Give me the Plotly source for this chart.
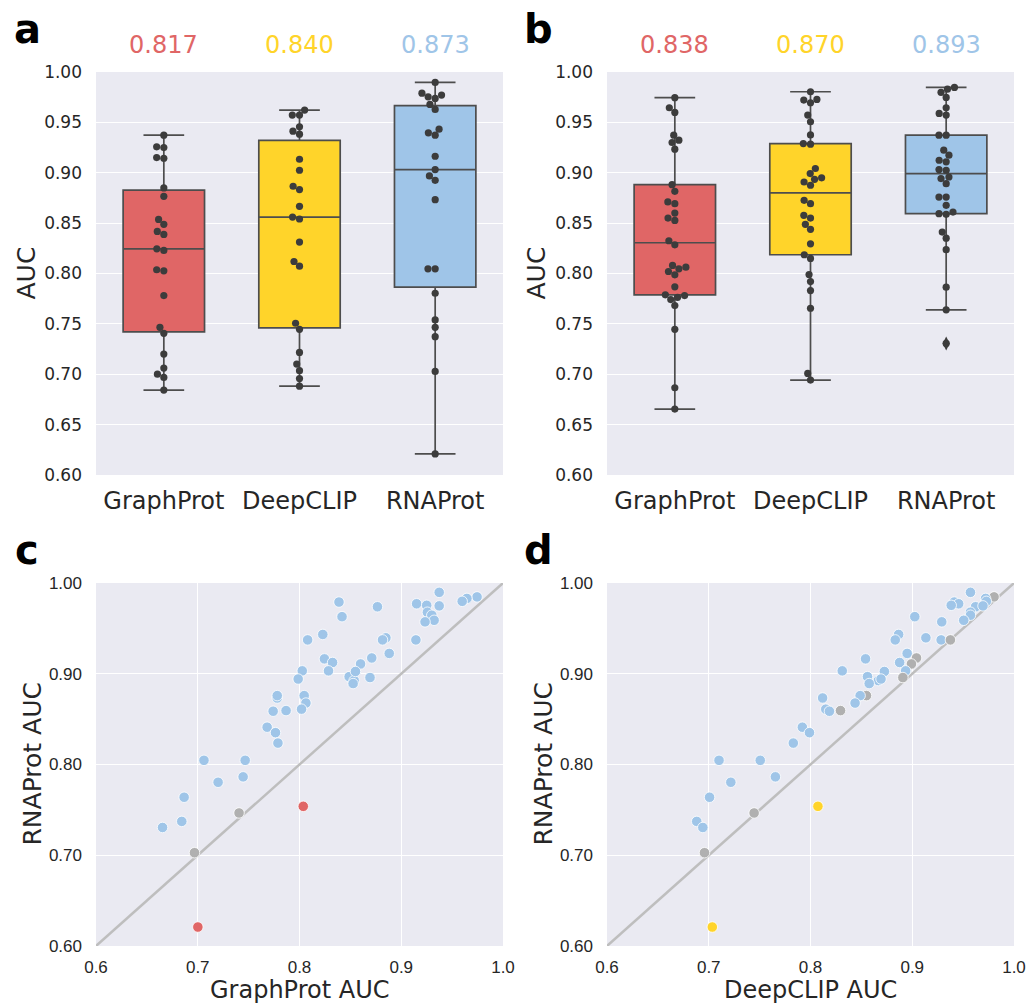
import numpy as np
import plotly.graph_objects as go

W, H = 1027, 1006

methods = ["GraphProt", "DeepCLIP", "RNAProt"]
method_colors = ["#E06666", "#FFD42A", "#9FC5E8"]
tie_color = "#B0B0B0"
box_line = "#4D4D4D"
dot_color = "#3C3C3C"

# ---- dataset of panel a (one value per RBP, rows aligned) ----
graphprot_a = [0.9373, 0.8388, 0.9151, 0.9250, 0.8766, 0.9257, 0.8418, 0.8229, 0.8849, 0.9144,
               0.8245, 0.8027, 0.8488, 0.8537, 0.7781, 0.7061, 0.7466, 0.7200, 0.8037, 0.7406,
               0.6843, 0.6968, 0.7001]
deepclip_a = [0.9572, 0.9413, 0.9456, 0.9383, 0.9622, 0.9572, 0.9025, 0.8866, 0.9134, 0.8833,
              0.8541, 0.8312, 0.8560, 0.8667, 0.8119, 0.7101, 0.7506, 0.7217, 0.8073, 0.7446,
              0.6882, 0.6958, 0.7035]
rnaprot_a = [0.9897, 0.9790, 0.9771, 0.9754, 0.9738, 0.9678, 0.9629, 0.9433, 0.9396, 0.9373,
             0.9164, 0.9032, 0.8968, 0.8925, 0.8733, 0.8046, 0.8046, 0.7804, 0.7539, 0.7466,
             0.7373, 0.7028, 0.6209]
# RNAProt vs other: "+" better, "-" worse, "=" no difference
vs_graphprot_a = ["+"] * 18 + ["-", "=", "+", "=", "-"]
vs_deepclip_a = ["+"] * 18 + ["-", "=", "+", "=", "-"]

# ---- dataset of panel b ----
graphprot_b = [0.9745, 0.9645, 0.9599, 0.9373, 0.9300, 0.9323, 0.9234, 0.8080, 0.8816, 0.8882,
               0.8710, 0.8325, 0.8600, 0.8285, 0.8550, 0.8693, 0.7987, 0.8527, 0.8046, 0.7781,
               0.8063, 0.8020, 0.7868, 0.7741, 0.7682, 0.7764, 0.7788, 0.7446, 0.6866, 0.6654]
deepclip_b = [0.9804, 0.9721, 0.9728, 0.9695, 0.9572, 0.9506, 0.9290, 0.9284, 0.9375, 0.8950,
              0.9042, 0.8876, 0.8992, 0.8935, 0.8726, 0.8908, 0.8693, 0.8577, 0.8550, 0.8488,
              0.8438, 0.8150, 0.8295, 0.8186, 0.7920, 0.7990, 0.7831, 0.7655, 0.7008, 0.6942]
rnaprot_b = [0.9847, 0.9830, 0.9798, 0.9748, 0.9645, 0.9589, 0.9572, 0.9373, 0.9373, 0.9224,
             0.9174, 0.9124, 0.9108, 0.9032, 0.9025, 0.8958, 0.8942, 0.8892, 0.8759, 0.8759,
             0.8677, 0.8610, 0.8594, 0.8587, 0.8411, 0.8351, 0.8236, 0.7864, 0.7639, 0.7306]
vs_graphprot_b = ["+"] * 30
vs_deepclip_b = ["=", "+", "+", "+", "+", "+", "+", "+", "=", "+",
                 "=", "+", "=", "+", "+", "=", "+", "+", "=", "+",
                 "+", "+", "=", "+", "+", "+", "+", "+", "+", "+"]

box_ticks = [0.60, 0.65, 0.70, 0.75, 0.80, 0.85, 0.90, 0.95, 1.00]
scatter_ticks = [0.6, 0.7, 0.8, 0.9, 1.0]

# ---- layout geometry (pixels) ----
top_y0, top_y1 = 72, 475
bot_y0, bot_y1 = 583, 946
left_x0, left_x1 = 96, 503
right_x0, right_x1 = 607, 1014

px_per_cat = (left_x1 - left_x0) / 3.0
px_per_auc = (top_y1 - top_y0) / 0.4
DOT = 7.2


def swarm_offsets(values, d=DOT):
    vals = np.asarray(values, dtype=float)
    order = np.argsort(vals, kind="stable")
    placed = []
    offs = np.zeros(len(vals))
    for i in order:
        y = vals[i] * px_per_auc
        cands = [0.0]
        for (px, py) in placed:
            dy = abs(py - y)
            if dy < d:
                dx = np.sqrt(d * d - dy * dy)
                cands += [px - dx, px + dx]
        cands = sorted(cands, key=lambda c: (round(abs(c), 6), c))
        chosen = cands[-1]
        for c in cands:
            if all((c - px) ** 2 + (y - py) ** 2 >= d * d - 1e-6 for px, py in placed):
                chosen = c
                break
        placed.append((chosen, y))
        offs[i] = chosen
    return offs / px_per_cat


fig = go.Figure()

panels_top = [
    ("x", "y", [graphprot_a, deepclip_a, rnaprot_a]),
    ("x2", "y2", [graphprot_b, deepclip_b, rnaprot_b]),
]
annotations = []
for xa, ya, series in panels_top:
    for j, vals in enumerate(series):
        fig.add_trace(go.Box(
            x=[j] * len(vals), y=vals, xaxis=xa, yaxis=ya,
            width=0.6, whiskerwidth=0.5, fillcolor=method_colors[j],
            line=dict(color=box_line, width=1.7),
            boxpoints="outliers", pointpos=0, jitter=0,
            marker=dict(symbol="diamond-tall", size=10, color=dot_color),
            quartilemethod="linear", hoverinfo="skip",
        ))
    for j, vals in enumerate(series):
        offs = swarm_offsets(vals)
        fig.add_trace(go.Scatter(
            x=j + offs, y=vals, xaxis=xa, yaxis=ya, mode="markers",
            marker=dict(size=DOT, color=dot_color), hoverinfo="skip",
        ))
        annotations.append(dict(
            x=j, y=1 - 45 / H, xref=xa, yref="paper", text=f"{np.mean(vals):.3f}",
            showarrow=False, font=dict(size=24, color=method_colors[j], family="DejaVu Sans"),
            xanchor="center", yanchor="middle",
        ))

panels_bot = [
    ("x3", "y3", graphprot_a + graphprot_b, rnaprot_a + rnaprot_b,
     vs_graphprot_a + vs_graphprot_b, method_colors[0]),
    ("x4", "y4", deepclip_a + deepclip_b, rnaprot_a + rnaprot_b,
     vs_deepclip_a + vs_deepclip_b, method_colors[1]),
]
for xa, ya, xv, yv, sig, worse_col in panels_bot:
    fig.add_trace(go.Scatter(
        x=[scatter_ticks[0], scatter_ticks[-1]], y=[scatter_ticks[0], scatter_ticks[-1]],
        xaxis=xa, yaxis=ya, mode="lines", line=dict(color="#BEBEBE", width=2.5),
        hoverinfo="skip",
    ))
    cols = [method_colors[2] if s == "+" else (worse_col if s == "-" else tie_color) for s in sig]
    fig.add_trace(go.Scatter(
        x=xv, y=yv, xaxis=xa, yaxis=ya, mode="markers",
        marker=dict(size=10.5, color=cols, line=dict(color="white", width=0.8)),
        hoverinfo="skip",
    ))

common = dict(zeroline=False, ticks="", showline=False, automargin=False)
top_x = dict(range=[-0.5, 2.5], tickvals=[0, 1, 2], ticktext=methods, showgrid=False,
             ticklabelstandoff=9,
             tickfont=dict(size=24, color="#262626", family="DejaVu Sans"), **common)
top_y = dict(range=[0.6, 1.0], tickvals=box_ticks, tickformat=".2f", gridcolor="white",
             gridwidth=1.3, ticklabelstandoff=13,
             tickfont=dict(size=17, color="#262626", family="DejaVu Sans"), **common)
bot_x = dict(range=[0.6, 1.0], tickvals=scatter_ticks, tickformat=".1f", gridcolor="white",
             gridwidth=1.3, ticklabelstandoff=9,
             tickfont=dict(size=17, color="#262626", family="Liberation Sans"), **common)
bot_y = dict(range=[0.6, 1.0], tickvals=scatter_ticks, tickformat=".2f", gridcolor="white",
             gridwidth=1.3, ticklabelstandoff=13,
             tickfont=dict(size=17, color="#262626", family="Liberation Sans"), **common)

fig.update_layout(
    width=W, height=H, margin=dict(l=0, r=0, t=0, b=0, autoexpand=False),
    paper_bgcolor="white", plot_bgcolor="#EAEAF2", showlegend=False, boxmode="overlay",
    font=dict(family="DejaVu Sans", color="#262626"),
    xaxis=dict(domain=[left_x0 / W, left_x1 / W], anchor="y", **top_x),
    yaxis=dict(domain=[1 - top_y1 / H, 1 - top_y0 / H], anchor="x", **top_y),
    xaxis2=dict(domain=[right_x0 / W, right_x1 / W], anchor="y2", **top_x),
    yaxis2=dict(domain=[1 - top_y1 / H, 1 - top_y0 / H], anchor="x2", **top_y),
    xaxis3=dict(domain=[left_x0 / W, left_x1 / W], anchor="y3", **bot_x),
    yaxis3=dict(domain=[1 - bot_y1 / H, 1 - bot_y0 / H], anchor="x3", **bot_y),
    xaxis4=dict(domain=[right_x0 / W, right_x1 / W], anchor="y4", **bot_x),
    yaxis4=dict(domain=[1 - bot_y1 / H, 1 - bot_y0 / H], anchor="x4", **bot_y),
)

# panel letters
for letter, px, py in [("a", 27, 29), ("b", 538, 29), ("c", 27, 550), ("d", 538, 550)]:
    annotations.append(dict(x=px / W, y=1 - py / H, xref="paper", yref="paper",
                            text=f"<b>{letter}</b>", showarrow=False,
                            font=dict(size=40, color="black", family="DejaVu Sans"),
                            xanchor="center", yanchor="middle"))

# axis titles (rotated y titles)
title_font = dict(size=25, color="#262626", family="DejaVu Sans")
for text, px, py in [
    ("AUC", 26, (top_y0 + top_y1) / 2),
    ("AUC", 536, (top_y0 + top_y1) / 2),
    ("RNAProt AUC", 32, (bot_y0 + bot_y1) / 2),
    ("RNAProt AUC", 543, (bot_y0 + bot_y1) / 2),
]:
    annotations.append(dict(x=px / W, y=1 - py / H, xref="paper", yref="paper", text=text,
                            showarrow=False, font=title_font, textangle=-90,
                            xanchor="center", yanchor="middle"))
# x titles of the scatter panels, sitting on the bottom edge
for text, px in [("GraphProt AUC", (left_x0 + left_x1) / 2),
                 ("DeepCLIP AUC", (right_x0 + right_x1) / 2)]:
    annotations.append(dict(x=px / W, y=0, xref="paper", yref="paper", text=text,
                            showarrow=False, font=dict(size=24, color="#262626",
                                                       family="DejaVu Sans"),
                            xanchor="center", yanchor="bottom"))

fig.update_layout(annotations=annotations)
fig.write_html("out.html")
